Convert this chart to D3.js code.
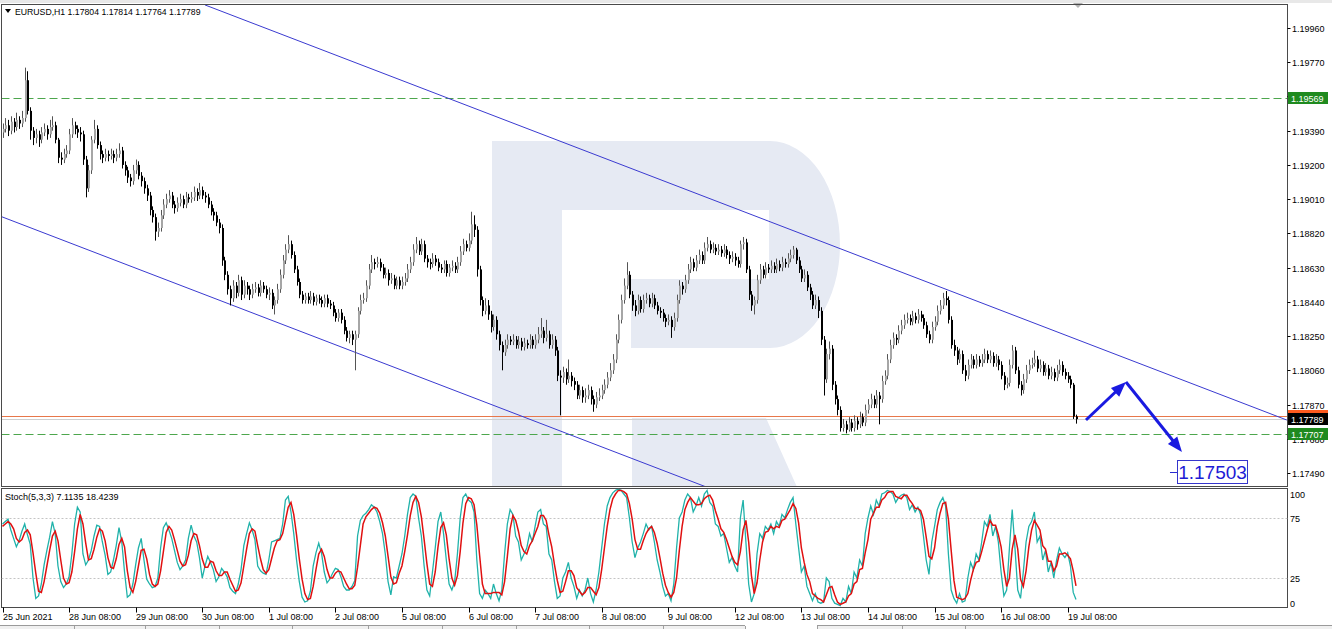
<!DOCTYPE html>
<html><head><meta charset="utf-8">
<script src="https://cdn.jsdelivr.net/npm/d3@7"></script>
<style>body{margin:0;background:#fff;}svg{display:block;font-family:"Liberation Sans",Arial,sans-serif;}</style>
</head><body><svg id="c" width="1332" height="629"></svg>
<script>
// ---------- DATA ----------
const symbolTitle = "EURUSD,H1";
const lastQuote = ["1.17804","1.17814","1.17764","1.17789"];
const stochTitle = "Stoch(5,3,3) 7.1135 18.4239";
const timeLabels = ["25 Jun 2021","28 Jun 08:00","29 Jun 08:00","30 Jun 08:00","1 Jul 08:00","2 Jul 08:00","5 Jul 08:00","6 Jul 08:00","7 Jul 08:00","8 Jul 08:00","9 Jul 08:00","12 Jul 08:00","13 Jul 08:00","14 Jul 08:00","15 Jul 08:00","16 Jul 08:00","19 Jul 08:00"];
const timeLabelBars = [0,24,48,72,96,120,144,168,192,216,240,264,288,312,336,360,384];
const priceTicks = [1.1749,1.1768,1.1787,1.1806,1.1825,1.1844,1.1863,1.1882,1.1901,1.1920,1.1939,1.1958,1.1977,1.1996];
const stochTicks = [100,75,25,0];
const stochLevels = [75,25];

const opens = [
1.1938,1.1940,1.1942,1.1939,1.1944,1.1941,1.1945,1.1943,1.1946,1.1967,
1.1950,1.1939,1.1935,1.1937,1.1934,1.1938,1.1940,1.1937,1.1941,1.1942,
1.1934,1.1924,1.1923,1.1926,1.1928,1.1937,1.1942,1.1940,1.1938,1.1937,
1.1923,1.1907,1.1917,1.1934,1.1940,1.1931,1.1926,1.1924,1.1926,1.1925,
1.1926,1.1924,1.1926,1.1928,1.1920,1.1917,1.1913,1.1911,1.1917,1.1920,
1.1914,1.1911,1.1907,1.1903,1.1895,1.1891,1.1883,1.1885,1.1892,1.1898,
1.1901,1.1903,1.1898,1.1896,1.1899,1.1901,1.1898,1.1902,1.1901,1.1902,
1.1905,1.1903,1.1906,1.1903,1.1902,1.1898,1.1894,1.1892,1.1888,1.1885,
1.1867,1.1859,1.1851,1.1846,1.1853,1.1849,1.1856,1.1848,1.1853,1.1851,
1.1848,1.1851,1.1852,1.1849,1.1853,1.1851,1.1848,1.1849,1.1842,1.1845,
1.1851,1.1859,1.1867,1.1873,1.1876,1.1870,1.1862,1.1855,1.1848,1.1845,
1.1847,1.1845,1.1847,1.1844,1.1846,1.1845,1.1843,1.1846,1.1843,1.1842,
1.1838,1.1835,1.1838,1.1834,1.1828,1.1824,1.1826,1.1823,1.1826,1.1839,
1.1845,1.1846,1.1853,1.1862,1.1866,1.1865,1.1866,1.1863,1.1859,1.1860,
1.1856,1.1857,1.1853,1.1856,1.1853,1.1855,1.1857,1.1862,1.1866,1.1873,
1.1876,1.1872,1.1876,1.1868,1.1866,1.1865,1.1868,1.1866,1.1863,1.1862,
1.1865,1.1860,1.1863,1.1864,1.1862,1.1866,1.1872,1.1876,1.1874,1.1878,
1.1887,1.1884,1.1862,1.1845,1.1839,1.1842,1.1837,1.1830,1.1834,1.1826,
1.1820,1.1816,1.1820,1.1823,1.1822,1.1823,1.1820,1.1822,1.1819,1.1821,
1.1820,1.1823,1.1820,1.1823,1.1826,1.1828,1.1824,1.1826,1.1820,1.1823,
1.1817,1.1803,1.1802,1.1805,1.1801,1.1803,1.1800,1.1798,1.1792,1.1795,
1.1791,1.1792,1.1795,1.1790,1.1787,1.1791,1.1792,1.1795,1.1798,1.1802,
1.1806,1.1812,1.1823,1.1834,1.1845,1.1853,1.1859,1.1848,1.1842,1.1839,
1.1845,1.1840,1.1845,1.1846,1.1843,1.1846,1.1842,1.1839,1.1838,1.1835,
1.1833,1.1834,1.1830,1.1835,1.1845,1.1853,1.1851,1.1856,1.1862,1.1866,
1.1863,1.1867,1.1870,1.1867,1.1874,1.1876,1.1873,1.1874,1.1872,1.1873,
1.1871,1.1873,1.1870,1.1868,1.1869,1.1867,1.1865,1.1876,1.1877,1.1862,
1.1848,1.1842,1.1845,1.1856,1.1862,1.1859,1.1863,1.1862,1.1864,1.1862,
1.1865,1.1863,1.1866,1.1865,1.1868,1.1870,1.1873,1.1867,1.1862,1.1857,
1.1859,1.1852,1.1848,1.1842,1.1845,1.1839,1.1823,1.1801,1.1815,1.1818,
1.1798,1.1790,1.1784,1.1774,1.1776,1.1773,1.1777,1.1774,1.1778,1.1776,
1.1780,1.1777,1.1784,1.1787,1.1790,1.1787,1.1792,1.1790,1.1800,1.1803,
1.1812,1.1820,1.1824,1.1823,1.1828,1.1831,1.1834,1.1835,1.1833,1.1836,
1.1834,1.1837,1.1835,1.1831,1.1826,1.1823,1.1830,1.1833,1.1839,1.1842,
1.1846,1.1845,1.1834,1.1820,1.1817,1.1812,1.1815,1.1806,1.1803,1.1809,
1.1812,1.1809,1.1812,1.1810,1.1812,1.1815,1.1812,1.1814,1.1810,1.1812,
1.1809,1.1803,1.1798,1.1799,1.1809,1.1817,1.1806,1.1798,1.1795,1.1801,
1.1806,1.1809,1.1810,1.1812,1.1807,1.1809,1.1805,1.1807,1.1803,1.1805,
1.1802,1.1806,1.1809,1.1805,1.1803,1.1801,1.1798,1.17804];

const highs = [
1.1943,1.1946,1.1945,1.1947,1.1946,1.1949,1.1947,1.1950,1.1974,1.1972,
1.1952,1.1941,1.1940,1.1939,1.1941,1.1943,1.1942,1.1945,1.1947,1.1944,
1.1935,1.1927,1.1929,1.1931,1.1940,1.1946,1.1944,1.1942,1.1941,1.1939,
1.1925,1.1920,1.1936,1.1945,1.1942,1.1933,1.1928,1.1929,1.1928,1.1929,
1.1928,1.1929,1.1932,1.1930,1.1922,1.1919,1.1915,1.1920,1.1923,1.1922,
1.1916,1.1913,1.1909,1.1905,1.1897,1.1893,1.1888,1.1895,1.1901,1.1904,
1.1906,1.1905,1.1900,1.1902,1.1904,1.1903,1.1905,1.1904,1.1905,1.1908,
1.1907,1.1910,1.1908,1.1905,1.1904,1.1900,1.1896,1.1894,1.1890,1.1887,
1.1869,1.1861,1.1853,1.1856,1.1855,1.1859,1.1858,1.1856,1.1855,1.1853,
1.1854,1.1855,1.1854,1.1856,1.1855,1.1853,1.1852,1.1851,1.1847,1.1854,
1.1862,1.1870,1.1876,1.1881,1.1878,1.1872,1.1864,1.1857,1.1850,1.1849,
1.1849,1.1850,1.1849,1.1848,1.1848,1.1847,1.1848,1.1848,1.1845,1.1844,
1.1840,1.1840,1.1840,1.1836,1.1830,1.1828,1.1828,1.1828,1.1841,1.1848,
1.1849,1.1856,1.1865,1.1870,1.1868,1.1869,1.1868,1.1865,1.1863,1.1862,
1.1860,1.1859,1.1858,1.1858,1.1858,1.1860,1.1865,1.1869,1.1876,1.1880,
1.1878,1.1879,1.1878,1.1870,1.1868,1.1871,1.1870,1.1868,1.1865,1.1867,
1.1867,1.1865,1.1867,1.1866,1.1869,1.1875,1.1879,1.1878,1.1882,1.1894,
1.1892,1.1886,1.1864,1.1847,1.1846,1.1845,1.1839,1.1837,1.1836,1.1828,
1.1822,1.1823,1.1826,1.1825,1.1826,1.1825,1.1825,1.1824,1.1824,1.1823,
1.1826,1.1825,1.1826,1.1830,1.1835,1.1830,1.1834,1.1828,1.1826,1.1825,
1.1819,1.1806,1.1808,1.1807,1.1812,1.1805,1.1802,1.1800,1.1798,1.1797,
1.1796,1.1798,1.1797,1.1792,1.1794,1.1796,1.1798,1.1801,1.1805,1.1810,
1.1815,1.1826,1.1837,1.1848,1.1857,1.1866,1.1861,1.1850,1.1845,1.1848,
1.1847,1.1848,1.1849,1.1848,1.1849,1.1848,1.1844,1.1841,1.1840,1.1837,
1.1837,1.1836,1.1838,1.1848,1.1856,1.1855,1.1859,1.1865,1.1869,1.1868,
1.1870,1.1873,1.1872,1.1877,1.1880,1.1878,1.1877,1.1876,1.1876,1.1875,
1.1876,1.1875,1.1872,1.1872,1.1871,1.1869,1.1878,1.1880,1.1879,1.1864,
1.1850,1.1847,1.1859,1.1865,1.1864,1.1866,1.1865,1.1867,1.1866,1.1868,
1.1867,1.1869,1.1868,1.1871,1.1873,1.1875,1.1874,1.1869,1.1864,1.1862,
1.1861,1.1854,1.1850,1.1848,1.1847,1.1841,1.1825,1.1818,1.1822,1.1820,
1.1800,1.1792,1.1786,1.1779,1.1778,1.1780,1.1779,1.1781,1.1780,1.1783,
1.1782,1.1787,1.1790,1.1793,1.1792,1.1795,1.1794,1.1803,1.1806,1.1815,
1.1823,1.1827,1.1826,1.1831,1.1834,1.1837,1.1838,1.1837,1.1839,1.1838,
1.1840,1.1839,1.1837,1.1833,1.1828,1.1833,1.1836,1.1842,1.1845,1.1849,
1.1850,1.1847,1.1836,1.1823,1.1819,1.1818,1.1817,1.1809,1.1812,1.1815,
1.1814,1.1815,1.1814,1.1815,1.1818,1.1817,1.1817,1.1816,1.1815,1.1814,
1.1811,1.1805,1.1802,1.1812,1.1820,1.1819,1.1808,1.1800,1.1804,1.1809,
1.1812,1.1813,1.1817,1.1814,1.1812,1.1811,1.1810,1.1809,1.1808,1.1807,
1.1809,1.1812,1.1811,1.1807,1.1805,1.1803,1.1799,1.17814];

const lows = [
1.1935,1.1938,1.1936,1.1937,1.1938,1.1939,1.1940,1.1941,1.1944,1.1948,
1.1934,1.1931,1.1932,1.1930,1.1932,1.1936,1.1934,1.1935,1.1939,1.1932,
1.1921,1.1920,1.1921,1.1924,1.1926,1.1935,1.1937,1.1935,1.1933,1.1920,
1.1902,1.1905,1.1915,1.1932,1.1929,1.1923,1.1921,1.1922,1.1922,1.1923,
1.1921,1.1922,1.1924,1.1918,1.1914,1.1910,1.1908,1.1909,1.1915,1.1912,
1.1908,1.1904,1.1900,1.1892,1.1888,1.1878,1.1880,1.1883,1.1890,1.1896,
1.1899,1.1896,1.1893,1.1894,1.1897,1.1896,1.1896,1.1899,1.1899,1.1900,
1.1900,1.1901,1.1901,1.1899,1.1896,1.1892,1.1889,1.1886,1.1882,1.1864,
1.1856,1.1848,1.1842,1.1844,1.1846,1.1847,1.1845,1.1846,1.1848,1.1845,
1.1846,1.1849,1.1847,1.1847,1.1849,1.1846,1.1845,1.1840,1.1837,1.1843,
1.1849,1.1857,1.1865,1.1871,1.1868,1.1860,1.1853,1.1846,1.1843,1.1843,
1.1843,1.1843,1.1842,1.1842,1.1843,1.1841,1.1841,1.1841,1.1840,1.1836,
1.1833,1.1833,1.1832,1.1826,1.1822,1.1821,1.1820,1.1806,1.1824,1.1837,
1.1843,1.1844,1.1851,1.1860,1.1862,1.1863,1.1861,1.1857,1.1857,1.1853,
1.1854,1.1851,1.1851,1.1851,1.1851,1.1853,1.1855,1.1860,1.1864,1.1871,
1.1870,1.1870,1.1866,1.1863,1.1862,1.1863,1.1864,1.1861,1.1860,1.1860,
1.1858,1.1858,1.1861,1.1860,1.1860,1.1864,1.1870,1.1872,1.1872,1.1876,
1.1880,1.1858,1.1842,1.1836,1.1837,1.1834,1.1827,1.1828,1.1823,1.1817,
1.1806,1.1814,1.1818,1.1820,1.1820,1.1818,1.1818,1.1817,1.1817,1.1818,
1.1818,1.1818,1.1818,1.1821,1.1824,1.1821,1.1822,1.1818,1.1818,1.1814,
1.1800,1.1781,1.1799,1.1798,1.1799,1.1797,1.1795,1.1790,1.1790,1.1788,
1.1788,1.1790,1.1787,1.1783,1.1785,1.1789,1.1790,1.1793,1.1796,1.1800,
1.1804,1.1810,1.1821,1.1832,1.1843,1.1851,1.1846,1.1839,1.1836,1.1837,
1.1838,1.1838,1.1843,1.1841,1.1841,1.1840,1.1837,1.1835,1.1833,1.1830,
1.1831,1.1824,1.1828,1.1833,1.1843,1.1848,1.1849,1.1854,1.1860,1.1861,
1.1861,1.1865,1.1865,1.1865,1.1872,1.1871,1.1871,1.1870,1.1870,1.1869,
1.1869,1.1868,1.1865,1.1866,1.1864,1.1863,1.1863,1.1873,1.1860,1.1845,
1.1839,1.1837,1.1843,1.1854,1.1857,1.1857,1.1860,1.1860,1.1860,1.1860,
1.1861,1.1861,1.1863,1.1863,1.1866,1.1868,1.1865,1.1860,1.1855,1.1855,
1.1850,1.1845,1.1840,1.1840,1.1835,1.1820,1.1792,1.1799,1.1812,1.1795,
1.1787,1.1781,1.1772,1.1772,1.1771,1.1772,1.1772,1.1772,1.1773,1.1774,
1.1775,1.1775,1.1782,1.1785,1.1785,1.1785,1.1776,1.1788,1.1798,1.1801,
1.1810,1.1818,1.1820,1.1821,1.1826,1.1829,1.1832,1.1831,1.1831,1.1832,
1.1832,1.1833,1.1829,1.1824,1.1821,1.1821,1.1828,1.1831,1.1837,1.1840,
1.1842,1.1832,1.1818,1.1814,1.1809,1.1810,1.1804,1.1800,1.1801,1.1807,
1.1807,1.1807,1.1808,1.1808,1.1810,1.1810,1.1810,1.1808,1.1808,1.1806,
1.1801,1.1795,1.1796,1.1797,1.1807,1.1804,1.1796,1.1792,1.1793,1.1799,
1.1804,1.1807,1.1808,1.1805,1.1805,1.1803,1.1803,1.1801,1.1801,1.1800,
1.1800,1.1804,1.1803,1.1801,1.1799,1.1796,1.1779,1.17764];

const closes = [
1.1940,1.1942,1.1939,1.1944,1.1941,1.1945,1.1943,1.1946,1.1967,1.1950,
1.1939,1.1935,1.1937,1.1934,1.1938,1.1940,1.1937,1.1941,1.1942,1.1934,
1.1924,1.1923,1.1926,1.1928,1.1937,1.1942,1.1940,1.1938,1.1937,1.1923,
1.1907,1.1917,1.1934,1.1940,1.1931,1.1926,1.1924,1.1926,1.1925,1.1926,
1.1924,1.1926,1.1928,1.1920,1.1917,1.1913,1.1911,1.1917,1.1920,1.1914,
1.1911,1.1907,1.1903,1.1895,1.1891,1.1883,1.1885,1.1892,1.1898,1.1901,
1.1903,1.1898,1.1896,1.1899,1.1901,1.1898,1.1902,1.1901,1.1902,1.1905,
1.1903,1.1906,1.1903,1.1902,1.1898,1.1894,1.1892,1.1888,1.1885,1.1867,
1.1859,1.1851,1.1846,1.1853,1.1849,1.1856,1.1848,1.1853,1.1851,1.1848,
1.1851,1.1852,1.1849,1.1853,1.1851,1.1848,1.1849,1.1842,1.1845,1.1851,
1.1859,1.1867,1.1873,1.1876,1.1870,1.1862,1.1855,1.1848,1.1845,1.1847,
1.1845,1.1847,1.1844,1.1846,1.1845,1.1843,1.1846,1.1843,1.1842,1.1838,
1.1835,1.1838,1.1834,1.1828,1.1824,1.1826,1.1823,1.1826,1.1839,1.1845,
1.1846,1.1853,1.1862,1.1866,1.1865,1.1866,1.1863,1.1859,1.1860,1.1856,
1.1857,1.1853,1.1856,1.1853,1.1855,1.1857,1.1862,1.1866,1.1873,1.1876,
1.1872,1.1876,1.1868,1.1866,1.1865,1.1868,1.1866,1.1863,1.1862,1.1865,
1.1860,1.1863,1.1864,1.1862,1.1866,1.1872,1.1876,1.1874,1.1878,1.1887,
1.1884,1.1862,1.1845,1.1839,1.1842,1.1837,1.1830,1.1834,1.1826,1.1820,
1.1816,1.1820,1.1823,1.1822,1.1823,1.1820,1.1822,1.1819,1.1821,1.1820,
1.1823,1.1820,1.1823,1.1826,1.1828,1.1824,1.1826,1.1820,1.1823,1.1817,
1.1803,1.1802,1.1805,1.1801,1.1803,1.1800,1.1798,1.1792,1.1795,1.1791,
1.1792,1.1795,1.1790,1.1787,1.1791,1.1792,1.1795,1.1798,1.1802,1.1806,
1.1812,1.1823,1.1834,1.1845,1.1853,1.1859,1.1848,1.1842,1.1839,1.1845,
1.1840,1.1845,1.1846,1.1843,1.1846,1.1842,1.1839,1.1838,1.1835,1.1833,
1.1834,1.1830,1.1835,1.1845,1.1853,1.1851,1.1856,1.1862,1.1866,1.1863,
1.1867,1.1870,1.1867,1.1874,1.1876,1.1873,1.1874,1.1872,1.1873,1.1871,
1.1873,1.1870,1.1868,1.1869,1.1867,1.1865,1.1876,1.1877,1.1862,1.1848,
1.1842,1.1845,1.1856,1.1862,1.1859,1.1863,1.1862,1.1864,1.1862,1.1865,
1.1863,1.1866,1.1865,1.1868,1.1870,1.1873,1.1867,1.1862,1.1857,1.1859,
1.1852,1.1848,1.1842,1.1845,1.1839,1.1823,1.1801,1.1815,1.1818,1.1798,
1.1790,1.1784,1.1774,1.1776,1.1773,1.1777,1.1774,1.1778,1.1776,1.1780,
1.1777,1.1784,1.1787,1.1790,1.1787,1.1792,1.1790,1.1800,1.1803,1.1812,
1.1820,1.1824,1.1823,1.1828,1.1831,1.1834,1.1835,1.1833,1.1836,1.1834,
1.1837,1.1835,1.1831,1.1826,1.1823,1.1830,1.1833,1.1839,1.1842,1.1846,
1.1845,1.1834,1.1820,1.1817,1.1812,1.1815,1.1806,1.1803,1.1809,1.1812,
1.1809,1.1812,1.1810,1.1812,1.1815,1.1812,1.1814,1.1810,1.1812,1.1809,
1.1803,1.1798,1.1799,1.1809,1.1817,1.1806,1.1798,1.1795,1.1801,1.1806,
1.1809,1.1810,1.1812,1.1807,1.1809,1.1805,1.1807,1.1803,1.1805,1.1802,
1.1806,1.1809,1.1805,1.1803,1.1801,1.1798,1.17804,1.17789];

const stochK = [
70,72,74,65,58,51,56,64,70,61, 53,25,8,10,20,36,48,59,72,62,
35,22,17,20,26,45,70,84,80,45, 36,40,48,60,69,68,55,44,28,30,
40,52,67,55,30,9,11,20,36,50, 58,40,24,20,17,18,25,50,67,71,
65,58,48,38,32,35,40,58,69,60, 55,42,25,35,43,38,32,22,26,33,
30,26,17,14,12,20,32,52,62,71, 65,57,35,31,29,28,40,55,56,57,
58,70,90,93,80,62,40,22,9,5, 6,14,35,46,54,46,30,21,24,29,
33,32,26,18,15,15,18,23,60,73, 77,79,82,86,84,80,72,62,45,22,
11,26,25,35,45,60,78,92,95,93, 75,60,35,15,10,30,50,72,80,62,
40,20,15,22,45,75,92,95,90,88, 80,40,12,8,15,12,8,20,12,6,
15,45,70,82,78,60,55,40,45,50, 62,55,68,80,82,70,68,45,40,22,
8,10,25,30,38,25,18,8,15,10, 15,25,12,5,15,30,50,70,85,92,
96,98,99,98,95,92,75,55,42,50, 55,62,70,65,68,55,40,30,18,10,
12,6,20,50,75,80,90,95,92,80, 85,92,85,95,98,88,85,70,68,60,
62,50,38,42,35,30,75,90,55,20, 5,12,45,62,58,68,65,70,62,72,
68,78,75,82,88,92,70,50,30,35, 18,12,6,12,5,4,5,25,22,8,
4,3,2,8,5,18,12,30,25,40, 35,62,75,85,78,90,85,95,96,98,
97,95,88,92,94,95,92,82,86,80, 84,78,60,40,28,55,68,82,88,92,
85,45,15,8,4,12,5,6,25,38, 32,45,40,55,72,68,78,60,68,55,
30,10,15,50,82,50,15,8,30,55, 68,72,80,55,60,40,48,30,38,25,
40,50,45,42,46,35,13,7.1135];

const stochD = [
68,70,72,70,66,58,55,57,63,65, 61,46,29,14,13,22,35,48,60,64,
56,40,25,20,21,30,47,66,78,70, 54,40,41,49,59,66,64,56,42,34,
33,41,53,58,51,31,17,13,22,35, 48,49,41,28,20,18,20,31,47,63,
68,65,57,48,39,35,36,44,56,62, 61,52,41,34,34,39,38,31,27,27,
30,30,24,19,14,15,21,35,49,62, 66,64,52,41,32,29,32,41,50,56,
57,62,73,84,88,78,61,41,24,12, 7,8,18,32,45,49,43,32,25,25,
29,31,30,25,20,16,16,19,34,52, 70,76,79,82,84,83,79,71,60,43,
26,20,21,29,35,47,61,77,88,93, 88,76,57,37,20,18,30,51,67,71,
61,41,25,19,27,47,71,87,92,91, 86,69,44,20,12,12,12,13,13,13,
11,22,43,66,77,73,64,52,47,45, 52,56,62,68,77,77,73,61,51,36,
23,13,14,22,31,31,27,17,14,11, 13,17,17,14,11,17,32,50,68,82,
91,95,98,98,97,95,87,74,57,49, 49,56,62,66,68,63,54,42,29,19,
13,9,13,25,48,68,82,88,92,89, 86,86,87,91,93,94,90,81,74,66,
63,57,50,43,38,36,47,65,73,55, 27,12,21,40,55,63,64,68,66,68,
67,73,74,78,82,87,83,71,50,38, 28,22,12,10,8,7,5,11,17,18,
11,5,3,4,5,10,12,20,22,32, 33,46,57,74,79,84,84,90,92,96,
97,97,93,92,91,94,94,90,87,83, 83,81,74,59,43,41,50,68,79,87,
88,74,48,23,9,8,7,8,12,23, 32,38,39,47,56,65,73,69,69,61,
51,32,18,25,49,61,49,24,18,31, 51,65,73,69,65,52,49,39,39,31,
35,45,45,46,44,41,31,18.4239];

// horizontal levels (price)
const levelPrices = [1.19569, 1.17707];
const askLine = 1.17806;
const bidLine = 1.17789;
// price labels on the right scale
const priceTags = [
  {p:1.17806, fill:"#ff5a1e"},
  {p:1.17789, fill:"#000000"},
  {p:1.19569, fill:"#1f8a1f"},
  {p:1.17707, fill:"#1f8a1f"}];
// channel lines: [bar index, price] pairs
const channelLines = [
  [[73, 1.20088],[463, 1.17784]],
  [[-0.9, 1.18916],[253.6, 1.17413]]];
// forecast path: [bar index, price]
const forecastPath = [[390.6, 1.17784],[405, 1.17995],[425.2, 1.17607]];
const targetPrice = "1.17503";
const targetAt = [423.4, 1.17496];

// ---------- LAYOUT ----------
const svg = d3.select("#c");
const L = 1.5, R = 1287.5, T = 4.5, B = 486.5, ST = 488.5, SB = 607.5;
const n = closes.length;
const x = d3.scaleLinear().domain([0, n - 1]).range([2.5, 1076]);
const y = d3.scaleLinear().domain([1.1749, 1.1996]).range([473, 28]);
const sy = d3.scaleLinear().domain([0, 100]).range([608, 488]);

svg.append("rect").attr("width",1332).attr("height",629).attr("fill","#fff");
const defs = svg.append("defs");
defs.append("clipPath").attr("id","cm").append("rect").attr("x",L).attr("y",T).attr("width",R-L).attr("height",B-T);
defs.append("clipPath").attr("id","cs").append("rect").attr("x",L).attr("y",ST).attr("width",R-L).attr("height",SB-ST);

// top strip
svg.append("rect").attr("x",0).attr("y",0).attr("width",1332).attr("height",3).attr("fill","#e8e8e8");
svg.append("polygon").attr("points","1073,3 1083,3 1078,8").attr("fill","#b4b4b4");

const gm = svg.append("g").attr("clip-path","url(#cm)");
// watermark logo
gm.append("path").attr("d","M492,141 H770 A70,103.5 0 0 1 770,348 H631 V279 H769 V210 H562 V487 H492 Z").attr("fill","#e6eaf3");
gm.append("path").attr("d","M632,418 H766 L797,487 H632 Z").attr("fill","#e6eaf3");

// levels
gm.append("line").attr("x1",L).attr("x2",R).attr("y1",Math.round(y(bidLine))+0.5).attr("y2",Math.round(y(bidLine))+0.5).attr("stroke","#cfcfcf");
gm.append("line").attr("x1",L).attr("x2",R).attr("y1",Math.round(y(askLine))+0.5).attr("y2",Math.round(y(askLine))+0.5).attr("stroke","#e8774a");
gm.selectAll(".lv").data(levelPrices).enter().append("line")
  .attr("x1",L).attr("x2",R).attr("y1",d=>Math.round(y(d))+0.5).attr("y2",d=>Math.round(y(d))+0.5)
  .attr("stroke","#4da64d").attr("stroke-dasharray","8,4");

// channel
gm.selectAll(".ch").data(channelLines).enter().append("line")
  .attr("x1",d=>x(d[0][0])).attr("y1",d=>y(d[0][1])).attr("x2",d=>x(d[1][0])).attr("y2",d=>y(d[1][1]))
  .attr("stroke","#3a3ad0").attr("stroke-width",1);

// candles
const bars = d3.range(n).map(i=>({i,o:opens[i],h:highs[i],l:lows[i],c:closes[i]}));
const cg = gm.append("g");
cg.selectAll(".w").data(bars).enter().append("line")
  .attr("x1",d=>Math.round(x(d.i))+0.5).attr("x2",d=>Math.round(x(d.i))+0.5)
  .attr("y1",d=>y(d.h)).attr("y2",d=>y(d.l))
  .attr("stroke",d=>d.c>=d.o?"#555":"#000").attr("stroke-width",1);
cg.selectAll(".b").data(bars).enter().append("rect")
  .attr("x",d=>Math.round(x(d.i))).attr("width",2)
  .attr("y",d=>y(Math.max(d.o,d.c)))
  .attr("height",d=>Math.max(1,y(Math.min(d.o,d.c))-y(Math.max(d.o,d.c))))
  .attr("fill",d=>d.c>=d.o?"#a6a6a6":"#000");

// forecast arrows
const ac = "#1a1ae0";
for (let k=0;k<forecastPath.length-1;k++){
  const x0=x(forecastPath[k][0]), y0=y(forecastPath[k][1]);
  const x1=x(forecastPath[k+1][0]), y1=y(forecastPath[k+1][1]);
  const dx=x1-x0, dy=y1-y0, len=Math.hypot(dx,dy), ux=dx/len, uy=dy/len;
  const hl=15, hw=6;
  const bx=x1-ux*hl, by=y1-uy*hl;
  gm.append("line").attr("x1",x0).attr("y1",y0).attr("x2",bx+ux*2).attr("y2",by+uy*2).attr("stroke",ac).attr("stroke-width",3);
  gm.append("polygon").attr("points",[[x1,y1],[bx-uy*hw,by+ux*hw],[bx+uy*hw,by-ux*hw]].map(p=>p.join(",")).join(" ")).attr("fill",ac);
}
// target label
const tx = x(targetAt[0]), ty = y(targetAt[1]);
svg.append("line").attr("x1",tx-7).attr("x2",tx).attr("y1",Math.round(ty)+0.5).attr("y2",Math.round(ty)+0.5).attr("stroke","#2b2bd0");
svg.append("rect").attr("x",Math.round(tx)+0.5).attr("y",Math.round(ty)-11.5).attr("width",70).attr("height",23).attr("fill","#fff").attr("stroke","#3535cc");
svg.append("text").attr("x",Math.round(tx)+35.5).attr("y",Math.round(ty)+7).attr("text-anchor","middle").attr("font-size",19).attr("fill","#1c1cd6").text(targetPrice);

// panel borders
svg.append("rect").attr("x",L).attr("y",T).attr("width",R-L).attr("height",B-T).attr("fill","none").attr("stroke","#4a4a4a");
svg.append("rect").attr("x",L).attr("y",ST).attr("width",R-L).attr("height",SB-ST).attr("fill","none").attr("stroke","#4a4a4a");

// right price axis
const ax = svg.append("g").attr("font-size",9).attr("fill","#000");
ax.selectAll(".tk").data(priceTicks).enter().append("line")
  .attr("x1",R).attr("x2",R+3).attr("y1",d=>Math.round(y(d))+0.5).attr("y2",d=>Math.round(y(d))+0.5).attr("stroke","#000");
ax.selectAll(".tl").data(priceTicks).enter().append("text")
  .attr("x",1292).attr("y",d=>Math.round(y(d))+3.5).text(d=>d3.format(".5f")(d));
const tg = svg.append("g").selectAll("g").data(priceTags).enter().append("g");
tg.append("rect").attr("x",1288).attr("y",d=>Math.round(y(d.p))-6).attr("width",40).attr("height",12).attr("fill",d=>d.fill);
tg.append("text").attr("x",1291).attr("y",d=>Math.round(y(d.p))+3.5).attr("font-size",9).attr("fill","#fff").text(d=>d3.format(".5f")(d.p));

// header
svg.append("polygon").attr("points","5,9 11,9 8,13").attr("fill","#000");
svg.append("text").attr("x",15).attr("y",14.5).attr("font-size",8.7).attr("fill","#000")
  .text(symbolTitle + "  " + lastQuote.join(" "));

// stochastic
const gs = svg.append("g").attr("clip-path","url(#cs)");
gs.selectAll(".sl").data(stochLevels).enter().append("line")
  .attr("x1",L).attr("x2",R).attr("y1",d=>Math.round(sy(d))+0.5).attr("y2",d=>Math.round(sy(d))+0.5)
  .attr("stroke","#c4c4c4").attr("stroke-dasharray","2,2");
const ln = d3.line().x((d,i)=>x(i)).y(d=>sy(d));
gs.append("path").attr("d",ln(stochK)).attr("fill","none").attr("stroke","#20b2aa").attr("stroke-width",1.3);
gs.append("path").attr("d",ln(stochD)).attr("fill","none").attr("stroke","#e01010").attr("stroke-width",1.5);
svg.append("text").attr("x",5).attr("y",499.5).attr("font-size",9).attr("fill","#000").text(stochTitle);
svg.selectAll(".stl").data(stochTicks).enter().append("text")
  .attr("x",1290).attr("y",d=>Math.min(Math.max(sy(d)+3.5,498),607)).attr("font-size",9).text(d=>d);

// x axis
svg.selectAll(".xt").data(timeLabelBars).enter().append("line")
  .attr("x1",d=>Math.round(x(d))+0.5).attr("x2",d=>Math.round(x(d))+0.5).attr("y1",SB).attr("y2",SB+5).attr("stroke","#000");
svg.selectAll(".xl").data(timeLabelBars).enter().append("text")
  .attr("x",d=>Math.round(x(d))).attr("y",620).attr("font-size",9).text((d,i)=>timeLabels[i]);

// bottom tab strip
svg.append("rect").attr("x",0).attr("y",625).attr("width",1332).attr("height",4).attr("fill","#f0f0f0");
svg.append("line").attr("x1",0).attr("x2",1332).attr("y1",625.5).attr("y2",625.5).attr("stroke","#9a9a9a");
svg.append("rect").attr("x",745).attr("y",625).attr("width",72).attr("height",4).attr("fill","#fff");
svg.selectAll(".tab").data([74,145,219,292,368,442,516,589,663,745,817,902,965]).enter().append("line")
  .attr("x1",d=>d+0.5).attr("x2",d=>d+0.5).attr("y1",626).attr("y2",629).attr("stroke","#a0a0a0");
</script></body></html>
